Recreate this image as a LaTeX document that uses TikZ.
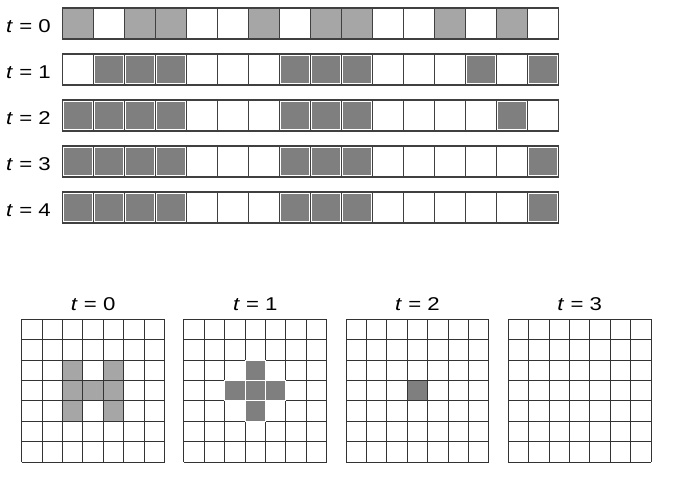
\documentclass[tikz,border=0pt]{standalone}
\usepackage{fontspec}
\setmainfont{Liberation Sans}
\definecolor{lightcell}{HTML}{A6A6A6}
\definecolor{darkcell}{HTML}{7F7F7F}
\definecolor{edgecol}{HTML}{404040}
\definecolor{gridcol}{HTML}{333333}
\tikzset{
  cellbox/.style={draw=edgecol, line width=1.4pt, fill=white},
  lightbox/.style={draw=edgecol, line width=1.4pt, fill=lightcell},
  darkfill/.style={fill=darkcell},
  gridline/.style={draw=gridcol, line width=1.1pt},
  plusbox/.style={fill=darkcell, draw=white, line width=0.9pt},
  lbl/.style={font=\fontsize{18.5}{20}\selectfont, inner sep=0pt}
}
\newcommand{\tlabel}[1]{\scalebox{1.2}[1]{\textit{t} = #1}}
\newcommand{\rowcells}[3]{% #1 = top y, #2 = light list, #3 = dark list
  \foreach \i in {1,...,16} {
    \path[cellbox] ({62.5+31*(\i-1)},#1) rectangle ++(31,31);
  }
  \foreach \i in {#2} {
    \path[lightbox] ({62.5+31*(\i-1)},#1) rectangle ++(31,31);
  }
  \foreach \i in {#3} {
    \path[darkfill] ({62.5+31*(\i-1)+1.6},#1+1.6) rectangle ++(27.8,27.8);
  }
}
\begin{document}
\begin{tikzpicture}[x=1pt,y=-1pt]
\useasboundingbox (0,0) rectangle (688,501);
% ---- one-dimensional rows ----
\rowcells{8}{1,3,4,7,9,10,13,15}{}
\rowcells{54}{}{2,3,4,8,9,10,14,16}
\rowcells{100}{}{1,2,3,4,8,9,10,15}
\rowcells{146}{}{1,2,3,4,8,9,10,16}
\rowcells{192}{}{1,2,3,4,8,9,10,16}
\node[lbl, anchor=east] (l0) at (51,26.5) {\tlabel{0}};
\node[lbl, anchor=east] (l1) at (51,72) {\tlabel{1}};
\node[lbl, anchor=east] (l2) at (51,118) {\tlabel{2}};
\node[lbl, anchor=east] (l3) at (51,164) {\tlabel{3}};
\node[lbl, anchor=east] (l4) at (51,210) {\tlabel{4}};
% ---- two-dimensional grids ----
\def\cs{20.4}
% grid 1 (t=0): light H shape
\foreach \r/\c in {2/2,3/2,4/2,3/3,2/4,3/4,4/4} {
  \fill[lightcell] ({21.7+\cs*\c},{319.3+\cs*\r}) rectangle ++(\cs,\cs);
}
% grid 3 (t=2): single dark cell
\fill[darkcell] ({21.7+2*162.2+\cs*3},{319.3+\cs*3}) rectangle ++(\cs,\cs);
\foreach \k in {0,1,2,3} {
  \foreach \j in {0,...,7} {
    \path[gridline] ({21.7+162.2*\k+\cs*\j},319.3) -- ++(0,{7*\cs});
    \path[gridline] ({21.7+162.2*\k},{319.3+\cs*\j}) -- ++({7*\cs},0);
  }
}
% grid 2 (t=1): dark plus shape
\foreach \r/\c in {2/3,3/2,3/3,3/4,4/3} {
  \path[plusbox] ({21.7+162.2+\cs*\c},{319.3+\cs*\r}) rectangle ++(\cs,\cs);
}
\node[lbl] (g0) at ({21.7+0*162.2+71.4},304) {\tlabel{0}};
\node[lbl] (g1) at ({21.7+1*162.2+71.4},304) {\tlabel{1}};
\node[lbl] (g2) at ({21.7+2*162.2+71.4},304) {\tlabel{2}};
\node[lbl] (g3) at ({21.7+3*162.2+71.4},304) {\tlabel{3}};
\end{tikzpicture}
\end{document}
